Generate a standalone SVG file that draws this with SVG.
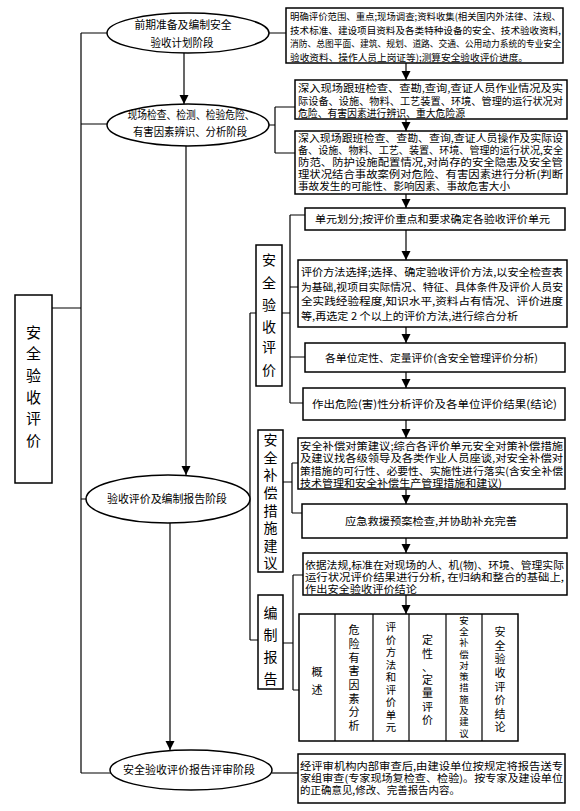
<svg xmlns="http://www.w3.org/2000/svg" width="580" height="811" viewBox="0 0 580 811">
<style>
.ln{stroke:#000;stroke-width:1.2;fill:none}
.bx{fill:#fff;stroke:#000;stroke-width:1.5}
.el{fill:#fff;stroke:#000;stroke-width:1.5}
text{font-family:"Noto Sans CJK SC","Noto Sans CJK TC",sans-serif;fill:#000}
.t{font-size:10.5px}
.t10{font-size:10px}
.t104{font-size:10.4px}
.e{font-size:11px;text-anchor:middle}
.g{font-size:14px;text-anchor:middle}
.c{font-size:11px;text-anchor:middle}
</style>
<defs>
<marker id="ar" viewBox="0 0 10 10" refX="10" refY="5" markerWidth="9" markerHeight="10" markerUnits="userSpaceOnUse" orient="auto">
<path d="M0,0 L10,5 L0,10 z" fill="#000"/>
</marker>
</defs>
<rect width="580" height="811" fill="#fff"/>

<g id="connectors">
<path class="ln" d="M81,33 V773 M81,33 H107 M81,124 H108 M52,308 H81 M81,499 H86 M81,773 H111"/>
<path class="ln" d="M184,53 V104" marker-end="url(#ar)"/>
<path class="ln" d="M186,146 V475" marker-end="url(#ar)"/>
<path class="ln" d="M170,523 V750" marker-end="url(#ar)"/>
<path class="ln" d="M269,33 H286 M269,125 H275 M275,107 V153 M275,107 H295 M275,153 H295"/>
<path class="ln" d="M290,215 V403 M290,215 H305 M290,287 H298 M290,357 H305 M290,403 H303 M282,313 H290"/>
<path class="ln" d="M250,313 V640 M250,313 H256 M250,640 H258"/>
<path class="ln" d="M292,463 V513 M292,463 H298 M292,513 H302 M283,482 H292"/>
<path class="ln" d="M293,575 V690 M293,575 H303 M293,690 H299 M283,643 H293"/>
<path class="ln" d="M272,773 H298"/>
<path class="ln" d="M406,63 V80" marker-end="url(#ar)"/>
<path class="ln" d="M406,119 V131" marker-end="url(#ar)"/>
<path class="ln" d="M406,194 V208" marker-end="url(#ar)"/>
<path class="ln" d="M406,230 V260" marker-end="url(#ar)"/>
<path class="ln" d="M406,327 V343" marker-end="url(#ar)"/>
<path class="ln" d="M406,372 V388" marker-end="url(#ar)"/>
<path class="ln" d="M406,420 V438" marker-end="url(#ar)"/>
<path class="ln" d="M406,489 V504" marker-end="url(#ar)"/>
<path class="ln" d="M406,538 V553" marker-end="url(#ar)"/>
<path class="ln" d="M406,595 V614" marker-end="url(#ar)"/>
</g>

<g id="stage1">
<ellipse class="el" cx="188" cy="33" rx="81" ry="20"/>
<text class="e" x="183" y="29.2" textLength="97" lengthAdjust="spacingAndGlyphs">前期准备及编制安全</text>
<text class="e" x="182" y="47.2" textLength="63" lengthAdjust="spacingAndGlyphs">验收计划阶段</text>
</g>
<g id="stage2">
<ellipse class="el" cx="188" cy="125" rx="81" ry="21"/>
<text class="e" x="191" y="119.2" textLength="127" lengthAdjust="spacingAndGlyphs">现场检查、检测、检验危险、</text>
<text class="e" x="190" y="136.2" textLength="114" lengthAdjust="spacingAndGlyphs">有害因素辨识、分析阶段</text>
</g>
<g id="stage3">
<ellipse class="el" cx="168" cy="499" rx="82" ry="24"/>
<text class="e" x="167" y="503.2" textLength="120" lengthAdjust="spacingAndGlyphs">验收评价及编制报告阶段</text>
</g>
<g id="stage4">
<ellipse class="el" cx="191" cy="770" rx="81" ry="20"/>
<text class="e" x="189" y="774.2" textLength="132" lengthAdjust="spacingAndGlyphs">安全验收评价报告评审阶段</text>
</g>

<g id="root">
<rect class="bx" x="15" y="295" width="37" height="188"/>
<text class="g" style="font-size:15px" x="33.5"><tspan x="33.5" y="337.7">安</tspan><tspan x="33.5" y="358.7">全</tspan><tspan x="33.5" y="380.7">验</tspan><tspan x="33.5" y="402.7">收</tspan><tspan x="33.5" y="423.7">评</tspan><tspan x="33.5" y="445.7">价</tspan></text>
</g>

<g id="box1">
<rect class="bx" x="286" y="8" width="277" height="55"/>
<text style="font-size:9.5px" x="290" y="20.3" textLength="271" lengthAdjust="spacingAndGlyphs">明确评价范围、重点;现场调查;资料收集(相关国内外法律、法规、</text>
<text style="font-size:9.5px" x="290" y="33.8" textLength="271" lengthAdjust="spacingAndGlyphs">技术标准、建设项目资料及各类特种设备的安全、技术验收资料,</text>
<text style="font-size:9px" x="290" y="47.2" textLength="271" lengthAdjust="spacingAndGlyphs">消防、总图平面、建筑、规划、道路、交通、公用动力系统的专业安全</text>
<text style="font-size:9.5px" x="290" y="60.8" textLength="238" lengthAdjust="spacingAndGlyphs">验收资料、操作人员上岗证等);测算安全验收评价进度。</text>
</g>
<g id="box2">
<rect class="bx" x="295" y="80" width="272" height="39"/>
<text class="t104" x="298" y="92" textLength="265" lengthAdjust="spacingAndGlyphs">深入现场跟班检查、查勘,查询,查证人员作业情况及实</text>
<text class="t104" x="298" y="104.5" textLength="265" lengthAdjust="spacingAndGlyphs">际设备、设施、物料、工艺装置、环境、管理的运行状况对</text>
<text class="t104" x="298" y="117" textLength="167" lengthAdjust="spacingAndGlyphs">危险、有害因素进行辨识、重大危险源</text>
</g>
<g id="box3">
<rect class="bx" x="295" y="131" width="272" height="63"/>
<text class="t10" x="298" y="142.3" textLength="265" lengthAdjust="spacingAndGlyphs">深入现场跟班检查、查勘、查询,查证人员操作及实际设</text>
<text class="t10" x="298" y="154.3" textLength="265" lengthAdjust="spacingAndGlyphs">备、设施、物料、工艺、装置、环境、管理的运行状况,安全</text>
<text class="t10" x="298" y="166.3" textLength="265" lengthAdjust="spacingAndGlyphs">防范、防护设施配置情况,对尚存的安全隐患及安全管</text>
<text class="t10" x="298" y="178.3" textLength="265" lengthAdjust="spacingAndGlyphs">理状况结合事故案例对危险、有害因素进行分析(判断</text>
<text class="t10" x="298" y="190.3" textLength="212" lengthAdjust="spacingAndGlyphs">事故发生的可能性、影响因素、事故危害大小</text>
</g>

<g id="group1">
<rect class="bx" x="256" y="245" width="26" height="141"/>
<text class="g" x="269"><tspan x="269" y="265.3">安</tspan><tspan x="269" y="288.3">全</tspan><tspan x="269" y="310.3">验</tspan><tspan x="269" y="332.3">收</tspan><tspan x="269" y="352.3">评</tspan><tspan x="269" y="375.3">价</tspan></text>
</g>
<g id="box4">
<rect class="bx" x="305" y="208" width="260" height="22"/>
<text class="t" x="315" y="223" textLength="235" lengthAdjust="spacingAndGlyphs">单元划分;按评价重点和要求确定各验收评价单元</text>
</g>
<g id="box5">
<rect class="bx" x="298" y="260" width="269" height="67"/>
<text class="t" x="301" y="276" textLength="262" lengthAdjust="spacingAndGlyphs">评价方法选择;选择、确定验收评价方法,以安全检查表</text>
<text class="t" x="301" y="290.5" textLength="262" lengthAdjust="spacingAndGlyphs">为基础,视项目实际情况、特征、具体条件及评价人员安</text>
<text class="t" x="301" y="305" textLength="262" lengthAdjust="spacingAndGlyphs">全实践经验程度,知识水平,资料占有情况、评价进度</text>
<text class="t" x="301" y="319.5" textLength="217" lengthAdjust="spacingAndGlyphs">等,再选定 2 个以上的评价方法,进行综合分析</text>
</g>
<g id="box6">
<rect class="bx" x="305" y="343" width="260" height="29"/>
<text class="t" x="325" y="361.5" textLength="213" lengthAdjust="spacingAndGlyphs">各单位定性、定量评价(含安全管理评价分析)</text>
</g>
<g id="box7">
<rect class="bx" x="303" y="388" width="262" height="32"/>
<text class="t" x="312" y="407.5" textLength="245" lengthAdjust="spacingAndGlyphs">作出危险(害)性分析评价及各单位评价结果(结论)</text>
</g>

<g id="group2">
<rect class="bx" x="258" y="430" width="25" height="142"/>
<text class="g" x="270.5"><tspan x="270.5" y="445.3">安</tspan><tspan x="270.5" y="462.9">全</tspan><tspan x="270.5" y="480.4">补</tspan><tspan x="270.5" y="498">偿</tspan><tspan x="270.5" y="515.6">措</tspan><tspan x="270.5" y="533.2">施</tspan><tspan x="270.5" y="550.7">建</tspan><tspan x="270.5" y="568.3">议</tspan></text>
</g>
<g id="box8">
<rect class="bx" x="298" y="438" width="267" height="51"/>
<text class="t104" x="300" y="449.5" textLength="263" lengthAdjust="spacingAndGlyphs">安全补偿对策建议;综合各评价单元安全对策补偿措施</text>
<text class="t104" x="300" y="462" textLength="263" lengthAdjust="spacingAndGlyphs">及建议找各级领导及各类作业人员座谈,对安全补偿对</text>
<text class="t104" x="300" y="474.5" textLength="263" lengthAdjust="spacingAndGlyphs">策措施的可行性、必要性、实施性进行落实(含安全补偿</text>
<text class="t104" x="300" y="487" textLength="202" lengthAdjust="spacingAndGlyphs">技术管理和安全补偿生产管理措施和建议)</text>
</g>
<g id="box9">
<rect class="bx" x="302" y="504" width="265" height="34"/>
<text class="t" x="345" y="525" textLength="172" lengthAdjust="spacingAndGlyphs">应急救援预案检查,并协助补充完善</text>
</g>

<g id="group3">
<rect class="bx" x="258" y="595" width="25" height="94"/>
<text class="g" x="270.5"><tspan x="270.5" y="618.3">编</tspan><tspan x="270.5" y="640.3">制</tspan><tspan x="270.5" y="662.3">报</tspan><tspan x="270.5" y="684.3">告</tspan></text>
</g>
<g id="box10">
<rect class="bx" x="303" y="553" width="264" height="42"/>
<text class="t10" x="305" y="568.8" textLength="259" lengthAdjust="spacingAndGlyphs">依据法规,标准在对现场的人、机(物)、环境、管理实际</text>
<text class="t10" x="305" y="580.8" textLength="259" lengthAdjust="spacingAndGlyphs">运行状况评价结果进行分析, 在归纳和整合的基础上,</text>
<text class="t10" x="305" y="592.8" textLength="112" lengthAdjust="spacingAndGlyphs">作出安全验收评价结论</text>
</g>
<g id="table">
<rect class="bx" x="299" y="614" width="219" height="127"/>
<path class="ln" d="M335,614 V741 M373,614 V741 M409,614 V741 M446,614 V741 M482,614 V741"/>
<text class="c" x="317"><tspan x="317" y="676.2">概</tspan><tspan x="317" y="694.2">述</tspan></text>
<text class="c" x="354"><tspan x="354" y="634.2">危</tspan><tspan x="354" y="647.9">险</tspan><tspan x="354" y="661.6">有</tspan><tspan x="354" y="675.3">害</tspan><tspan x="354" y="689">因</tspan><tspan x="354" y="702.7">素</tspan><tspan x="354" y="716.4">分</tspan><tspan x="354" y="730.2">析</tspan></text>
<text class="c" style="font-size:10.4px" x="391"><tspan x="391" y="631">评</tspan><tspan x="391" y="643.5">价</tspan><tspan x="391" y="656">方</tspan><tspan x="391" y="668.5">法</tspan><tspan x="391" y="681">和</tspan><tspan x="391" y="693.5">评</tspan><tspan x="391" y="706">价</tspan><tspan x="391" y="718.5">单</tspan><tspan x="391" y="731">元</tspan></text>
<text class="c" x="427.5"><tspan x="427.5" y="644.2">定</tspan><tspan x="427.5" y="657.5">性</tspan><tspan x="427.5" y="670.8">、</tspan><tspan x="427.5" y="684.1">定</tspan><tspan x="427.5" y="697.4">量</tspan><tspan x="427.5" y="710.7">评</tspan><tspan x="427.5" y="724">价</tspan></text>
<text class="c" style="font-size:9.4px" x="464"><tspan x="464" y="623.6">安</tspan><tspan x="464" y="634.9">全</tspan><tspan x="464" y="646.2">补</tspan><tspan x="464" y="657.5">偿</tspan><tspan x="464" y="668.8">对</tspan><tspan x="464" y="680.1">策</tspan><tspan x="464" y="691.4">措</tspan><tspan x="464" y="702.7">施</tspan><tspan x="464" y="714">及</tspan><tspan x="464" y="725.3">建</tspan><tspan x="464" y="736.6">议</tspan></text>
<text class="c" x="500"><tspan x="500" y="636.2">安</tspan><tspan x="500" y="649.8">全</tspan><tspan x="500" y="663.4">验</tspan><tspan x="500" y="677">收</tspan><tspan x="500" y="690.6">评</tspan><tspan x="500" y="704.2">价</tspan><tspan x="500" y="717.8">结</tspan><tspan x="500" y="731.4">论</tspan></text>
</g>
<g id="box11">
<rect class="bx" x="298" y="754" width="267" height="49"/>
<text class="t10" x="300" y="769.8" textLength="263" lengthAdjust="spacingAndGlyphs">经评审机构内部审查后,由建设单位按规定将报告送专</text>
<text class="t10" x="300" y="781.8" textLength="263" lengthAdjust="spacingAndGlyphs">家组审查(专家现场复检查、检验)。按专家及建设单位</text>
<text class="t10" x="300" y="793.8" textLength="160" lengthAdjust="spacingAndGlyphs">的正确意见,修改、完善报告内容。</text>
</g>
</svg>
